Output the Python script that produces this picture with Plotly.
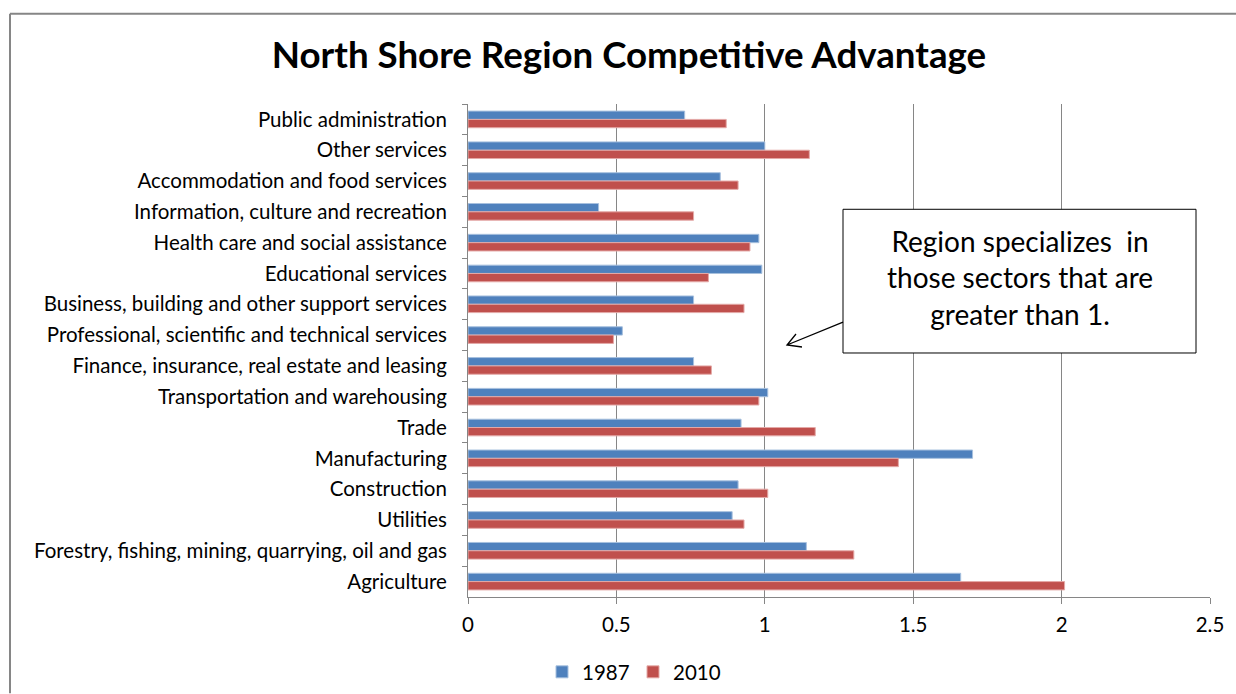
import plotly.graph_objects as go

categories = [
    "Public administration",
    "Other services",
    "Accommodation and food services",
    "Information, culture and recreation",
    "Health care and social assistance",
    "Educational services",
    "Business, building and other support services",
    "Professional, scientific and technical services",
    "Finance, insurance, real estate and leasing",
    "Transportation and warehousing",
    "Trade",
    "Manufacturing",
    "Construction",
    "Utilities",
    "Forestry, fishing, mining, quarrying, oil and gas",
    "Agriculture",
]
values_1987 = [0.73, 1.00, 0.85, 0.44, 0.98, 0.99, 0.76, 0.52, 0.76, 1.01, 0.92, 1.70, 0.91, 0.89, 1.14, 1.66]
values_2010 = [0.87, 1.15, 0.91, 0.76, 0.95, 0.81, 0.93, 0.49, 0.82, 0.98, 1.17, 1.45, 1.01, 0.93, 1.30, 2.01]
x_ticks = [0, 0.5, 1, 1.5, 2, 2.5]
x_tick_labels = ["0", "0.5", "1", "1.5", "2", "2.5"]

W, H = 1236, 694
L, R, T, B = 468, 26, 103.5, 96.5
PW, PH = W - L - R, H - T - B

def px(x):
    return (x - L) / PW

def py(y):
    return (H - B - y) / PH

FONT = "Lato, 'Open Sans', sans-serif"
GRID = "#868686"

fig = go.Figure()
fig.add_trace(go.Bar(
    y=categories, x=values_1987, name="1987", orientation="h",
    marker=dict(color="#4F81BD", line=dict(color="#A7C0DE", width=1)),
))
fig.add_trace(go.Bar(
    y=categories, x=values_2010, name="2010", orientation="h",
    marker=dict(color="#C0504D", line=dict(color="#E4A9A7", width=1)),
))

fig.update_layout(
    width=W, height=H,
    margin=dict(l=L, r=R, t=T, b=B, autoexpand=False),
    paper_bgcolor="white", plot_bgcolor="white",
    barmode="group", bargap=0.46, bargroupgap=0,
    font=dict(family=FONT, size=20.5, color="black"),
    title=dict(text="<b>North Shore Region Competitive Advantage</b>",
               x=629 / W, xanchor="center", y=1 - 55 / H, yanchor="middle",
               font=dict(family=FONT, size=36.7, color="black")),
    xaxis=dict(range=[0, 2.5], tickvals=x_ticks, ticktext=x_tick_labels,
               showgrid=True, gridcolor=GRID, gridwidth=1, zeroline=False,
               showline=True, linecolor=GRID, linewidth=1,
               ticks="outside", ticklen=6, tickcolor=GRID,
               ticklabelstandoff=3, tickfont=dict(size=20.5)),
    yaxis=dict(autorange="reversed", showgrid=False, zeroline=False,
               showline=True, linecolor=GRID, linewidth=1,
               ticks="outside", ticklen=5, tickcolor=GRID, tickson="boundaries",
               ticklabelstandoff=16, tickfont=dict(size=20.5)),
    legend=dict(orientation="h", xref="container", x=633 / W, xanchor="center",
                yref="container", y=1 - 672 / H, yanchor="middle",
                font=dict(size=20.5), entrywidth=46, itemwidth=30),
    showlegend=True,
)

# chart area border (top and left)
fig.add_shape(type="line", xref="paper", yref="paper", x0=px(10), y0=py(13), x1=px(W), y1=py(13),
              line=dict(color=GRID, width=2))
fig.add_shape(type="line", xref="paper", yref="paper", x0=px(10), y0=py(13), x1=px(10), y1=py(H),
              line=dict(color=GRID, width=2))

# callout box
fig.add_shape(type="rect", xref="paper", yref="paper", x0=px(843), y0=py(209), x1=px(1196), y1=py(353),
              line=dict(color="black", width=1), fillcolor="white", layer="above")
fig.add_annotation(xref="paper", yref="paper", x=px(1019.5), y=py(277), showarrow=False,
                   xanchor="center", yanchor="middle",
                   text="Region specializes  in<br>those sectors that are<br>greater than 1.",
                   font=dict(family=FONT, size=28, color="black"), align="center")

# arrow
head = (787, 345)
tail = (843, 322)
w1 = (802, 347)
w2 = (796, 334)
path = (f"M {px(w1[0])},{py(w1[1])} L {px(head[0])},{py(head[1])} L {px(w2[0])},{py(w2[1])} "
        f"M {px(head[0])},{py(head[1])} L {px(tail[0])},{py(tail[1])}")
fig.add_shape(type="path", xref="paper", yref="paper", path=path, line=dict(color="black", width=1.3))

fig.write_html("out.html", config={"displayModeBar": False},
               post_script="document.body.style.margin='0';")
